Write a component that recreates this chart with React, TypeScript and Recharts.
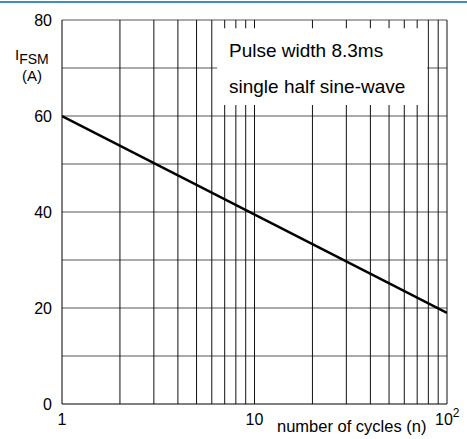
import React from "react";
import { LineChart, Line, XAxis, YAxis, ReferenceLine, ReferenceArea } from "recharts";

// surge current vs. number of cycles
const cycles = [1, 100];
const surgeCurrent = [60, 19];

const xTicks = [1, 10, 100];
const yTicks = [0, 20, 40, 60, 80];
const hGridValues = [10, 20, 30, 40, 50, 60, 70, 80];
const vGridValues = [2, 3, 4, 5, 6, 7, 8, 9, 10, 20, 30, 40, 50, 60, 70, 80, 90, 100];

const noteLines = ["Pulse width 8.3ms", "single half sine-wave"];

const FONT = "'Liberation Sans', Arial, sans-serif";

const chartData = cycles.map((n, i) => ({ n, current: surgeCurrent[i] }));

const XTick = ({ x, payload }: any) => {
  const v = payload.value;
  if (v === 100) {
    return (
      <text x={x - 12} y={425} fontSize={16} fontFamily={FONT} fill="#000">
        10
        <tspan dy={-8} fontSize={12}>2</tspan>
      </text>
    );
  }
  return (
    <text x={x} y={425} textAnchor="middle" fontSize={16} fontFamily={FONT} fill="#000">
      {v}
    </text>
  );
};

export default function App() {
  return (
    <div style={{ position: "absolute", left: 0, top: 0, width: 467, height: 439, background: "#fff" }}>
      <div style={{ position: "absolute", left: 0, top: 1, width: 467, height: 2, background: "#3f8fb9" }} />
      <LineChart
        width={467}
        height={439}
        data={chartData}
        margin={{ top: 20, right: 20, bottom: 0, left: 0 }}
      >
        <XAxis
          dataKey="n"
          type="number"
          scale="log"
          domain={[1, 100]}
          ticks={xTicks}
          allowDataOverflow
          height={35}
          tick={<XTick />}
          tickLine={false}
          axisLine={{ stroke: "#000", strokeWidth: 1 }}
        />
        <YAxis
          type="number"
          domain={[0, 80]}
          ticks={yTicks}
          width={62}
          tickSize={0}
          tickMargin={10}
          tickLine={false}
          axisLine={{ stroke: "#000", strokeWidth: 1 }}
          tick={{ fontSize: 16, fill: "#000", fontFamily: FONT }}
        />
        {hGridValues.map((v) => (
          <ReferenceLine key={"h" + v} y={v} stroke="#555" strokeWidth={1.2} ifOverflow="extendDomain" />
        ))}
        {vGridValues.map((v) => (
          <ReferenceLine key={"v" + v} x={v} stroke="#111" strokeWidth={1} />
        ))}
        <ReferenceArea
          x1={6.4}
          x2={79}
          y1={62.3}
          y2={78.3}
          fill="#fff"
          fillOpacity={1}
          stroke="none"
          zIndex={500}
        />
        <Line
          type="linear"
          dataKey="current"
          stroke="#000"
          strokeWidth={2.5}
          dot={false}
          isAnimationActive={false}
        />
      </LineChart>
      <svg
        width={467}
        height={439}
        style={{ position: "absolute", left: 0, top: 0, pointerEvents: "none" }}
        fontFamily={FONT}
      >
        <text x={229} y={57} fontSize={19} fill="#000">{noteLines[0]}</text>
        <text x={229} y={93} fontSize={19} fill="#000">{noteLines[1]}</text>
        <text x={15} y={60} fontSize={15} fill="#000">
          I<tspan dy={4} fontSize={14}>FSM</tspan>
        </text>
        <text x={32} y={81} fontSize={15} textAnchor="middle" fill="#000">(A)</text>
        <text x={277} y={432} fontSize={16.5} fill="#000">number of cycles (n)</text>
      </svg>
    </div>
  );
}
